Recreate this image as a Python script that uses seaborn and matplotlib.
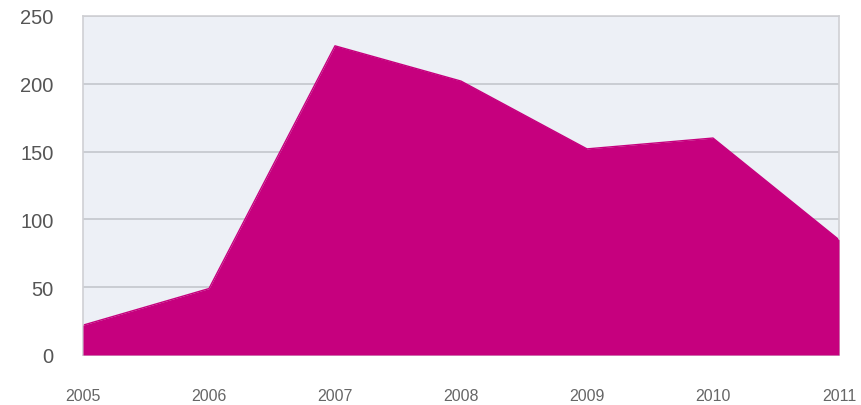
import matplotlib
matplotlib.use("Agg")
import matplotlib.pyplot as plt
import seaborn as sns
import pandas as pd

years = [2005, 2006, 2007, 2008, 2009, 2010, 2011]
values = [22, 49, 228, 202, 152, 160, 85]
y_ticks = [0, 50, 100, 150, 200, 250]

df = pd.DataFrame({"year": years, "value": values})

sns.set_theme(style="white")
plt.rcParams['font.family'] = ['Liberation Sans', 'DejaVu Sans']

fig = plt.figure(figsize=(8.61, 4.06), dpi=100)
ax = fig.add_axes([83/861, 50/406, (839-83)/861, (356-17)/406])
ax.set_facecolor("#edf0f6")

color = "#c6007e"
sns.lineplot(data=df, x="year", y="value", ax=ax, color=color, linewidth=1)
ax.fill_between(df["year"], df["value"], 0, color=color, linewidth=0, zorder=3)

ax.set_xlim(2005, 2011)
ax.set_ylim(0, 250)
ax.set_yticks(y_ticks)
ax.set_xticks(years)
ax.set_xticklabels([str(y) for y in years])
ax.yaxis.grid(True, color="#c4c6cc", linewidth=1.2)
ax.set_axisbelow(True)
for s in ax.spines.values():
    s.set_color("#cfd0d4")
    s.set_linewidth(1.2)
ax.tick_params(axis="y", length=0, pad=21, labelsize=14.5, labelcolor="#555555")
ax.tick_params(axis="x", length=0, pad=23.5, labelsize=11.5, labelcolor="#666666")
ax.set_xlabel("")
ax.set_ylabel("")

fig.savefig("out.png", dpi=100)
